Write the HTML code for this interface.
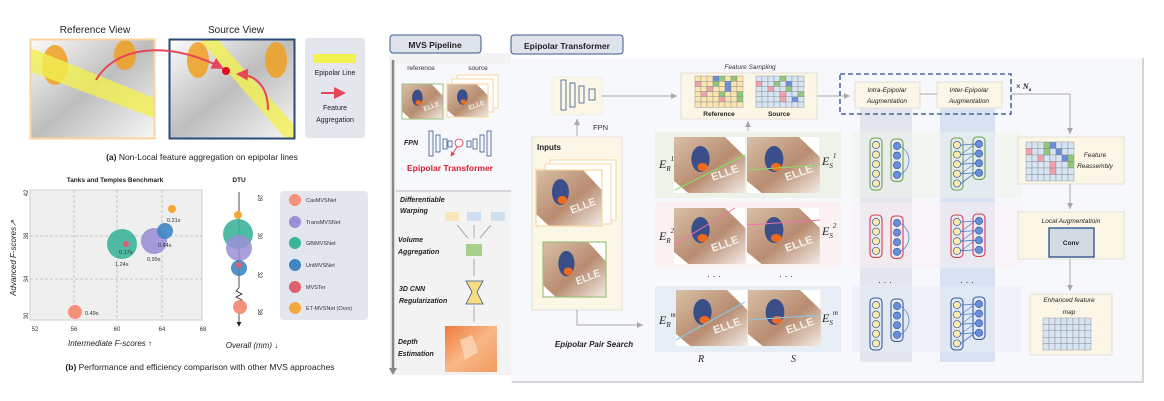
<!DOCTYPE html>
<html><head><meta charset="utf-8"><style>
html,body{margin:0;padding:0;background:#fff;}
svg{display:block;font-family:"Liberation Sans",sans-serif;}
.it{font-style:italic;}
</style></head><body>
<svg id="s" width="1164" height="401" viewBox="0 0 1164 401" xmlns="http://www.w3.org/2000/svg">
<defs>
<marker id="ag" markerWidth="8" markerHeight="8" refX="6" refY="3" orient="auto"><path d="M0,0 L6,3 L0,6 z" fill="#a8a8a8"/></marker>
<marker id="ar" markerWidth="8" markerHeight="8" refX="5" refY="3" orient="auto"><path d="M0,0 L6,3 L0,6 z" fill="#e8445a"/></marker>
<marker id="ak" markerWidth="8" markerHeight="8" refX="5" refY="3" orient="auto"><path d="M0,0 L6,3 L0,6 z" fill="#222"/></marker>
<linearGradient id="img" x1="0" y1="0" x2="1" y2="1"><stop offset="0" stop-color="#d8c0a6"/><stop offset="0.55" stop-color="#b88c70"/><stop offset="1" stop-color="#f3ece6"/></linearGradient>
<linearGradient id="dep" x1="0" y1="0" x2="1" y2="1"><stop offset="0" stop-color="#f07a3c"/><stop offset="0.5" stop-color="#f8b888"/><stop offset="1" stop-color="#f39a5c"/></linearGradient>
<linearGradient id="gray" x1="0" y1="0" x2="1" y2="1"><stop offset="0" stop-color="#f8f8f8"/><stop offset="0.5" stop-color="#888"/><stop offset="1" stop-color="#f0f0f0"/></linearGradient>
<g id="bird"><rect width="70" height="56" fill="url(#img)"/><polygon points="50,0 70,0 70,20" fill="#fff"/><polygon points="0,44 0,56 14,56" fill="#fff"/><ellipse cx="26" cy="22" rx="9" ry="13" fill="#3a4f8a"/><ellipse cx="28" cy="30" rx="5" ry="4" fill="#f06a1e"/><text x="38" y="44" font-size="11" font-weight="bold" fill="#f2efe9" transform="rotate(-20 38 44)">ELLE</text></g>
</defs>

<!-- ===== Panel (a) ===== -->
<text x="95" y="33" font-size="10" text-anchor="middle" fill="#222">Reference View</text>
<text x="236" y="33" font-size="10" text-anchor="middle" fill="#222">Source View</text>
<rect x="31" y="40" width="123" height="98" fill="url(#gray)" opacity="0.55"/>
<ellipse cx="55" cy="65" rx="13" ry="20" fill="#f0a020" opacity="0.85"/><ellipse cx="125" cy="55" rx="11" ry="15" fill="#f0a020" opacity="0.85"/>
<polygon points="31,48 31,72 154,118 154,98" fill="#f2f050" opacity="0.8"/>
<rect x="30.5" y="39.5" width="124" height="99" fill="none" stroke="#f8d5a0" stroke-width="2"/>
<rect x="170" y="40" width="124" height="98" fill="url(#gray)" opacity="0.55"/>
<ellipse cx="198" cy="60" rx="11" ry="18" fill="#f0a020" opacity="0.85"/><ellipse cx="276" cy="60" rx="11" ry="18" fill="#f0a020" opacity="0.85"/>
<polygon points="200,40 218,40 294,125 294,138 285,138" fill="#f2f050" opacity="0.8"/>
<rect x="169.5" y="39.5" width="125" height="99" fill="none" stroke="#2a4a78" stroke-width="2"/>
<path d="M96,80 C120,40 180,45 222,68" fill="none" stroke="#e8445a" stroke-width="2" marker-end="url(#ar)"/>
<path d="M268,110 C268,85 255,75 238,74" fill="none" stroke="#e8445a" stroke-width="2" marker-end="url(#ar)"/>
<circle cx="226" cy="71" r="4" fill="#e01020"/>
<rect x="305" y="38" width="60" height="100" rx="4" fill="#e4e6ee"/>
<rect x="313" y="54" width="43" height="9" fill="#f4f050"/>
<text x="335" y="75" font-size="7" text-anchor="middle" fill="#222">Epipolar Line</text>
<line x1="321" y1="93" x2="344" y2="93" stroke="#e8445a" stroke-width="2" marker-end="url(#ar)"/>
<text x="335" y="110" font-size="7" text-anchor="middle" fill="#222">Feature</text>
<text x="335" y="122" font-size="7" text-anchor="middle" fill="#222">Aggregation</text>
<text x="202" y="160" font-size="8.5" text-anchor="middle" fill="#222"><tspan font-weight="bold">(a)</tspan> Non-Local feature aggregation on epipolar lines</text>

<!-- ===== Panel (b) ===== -->
<text x="115" y="182" font-size="6.5" font-weight="bold" text-anchor="middle" fill="#222">Tanks and Temples Benchmark</text>
<rect x="30" y="190" width="172" height="130" fill="#efefef" stroke="#ccc"/>
<g stroke="#bbb" stroke-dasharray="3,2" stroke-width="0.8">
<line x1="74" y1="190" x2="74" y2="320"/><line x1="117" y1="190" x2="117" y2="320"/><line x1="162" y1="190" x2="162" y2="320"/>
<line x1="30" y1="236" x2="202" y2="236"/><line x1="30" y1="279" x2="202" y2="279"/></g>
<g font-size="6" fill="#333" text-anchor="middle">
<text x="35" y="331">52</text><text x="74" y="331">56</text><text x="117" y="331">60</text><text x="162" y="331">64</text><text x="203" y="331">68</text>
<text transform="translate(28,193) rotate(-90)">42</text><text transform="translate(28,236) rotate(-90)">38</text><text transform="translate(28,279) rotate(-90)">34</text><text transform="translate(28,316) rotate(-90)">30</text></g>
<circle cx="75" cy="312" r="7" fill="#f4917a"/>
<circle cx="122" cy="244" r="15" fill="#3cb49a" opacity="0.9"/>
<circle cx="154" cy="241" r="13" fill="#9b8fd6" opacity="0.9"/>
<circle cx="165" cy="231" r="8" fill="#3e86c4" opacity="0.9"/>
<circle cx="126" cy="244" r="3" fill="#e06070"/>
<circle cx="172" cy="209" r="4" fill="#f5a83a"/>
<g font-size="5.5" fill="#333"><text x="85" y="315">0.49s</text><text x="119" y="254">0.17s</text><text x="115" y="266">1.24s</text><text x="147" y="261">0.99s</text><text x="158" y="247">0.64s</text><text x="167" y="222">0.21s</text></g>
<text transform="translate(16,258) rotate(-90)" font-size="8" class="it" text-anchor="middle" fill="#222">Advanced F-scores↗</text>
<text x="110" y="346" font-size="8" class="it" text-anchor="middle" fill="#222">Intermediate F-scores ↑</text>
<text x="239" y="182" font-size="6.5" font-weight="bold" text-anchor="middle" fill="#222">DTU</text>
<line x1="239" y1="192" x2="239" y2="288" stroke="#222" stroke-width="0.8"/>
<polyline points="239,288 236,291 242,294 236,297 242,300 239,302" fill="none" stroke="#222" stroke-width="0.8"/>
<line x1="239" y1="302" x2="239" y2="326" stroke="#222" stroke-width="0.8" marker-end="url(#ak)"/>
<circle cx="238" cy="215" r="4" fill="#f5a83a"/>
<circle cx="238" cy="234" r="15" fill="#3cb49a" opacity="0.9"/>
<circle cx="239" cy="248" r="13" fill="#9b8fd6" opacity="0.85"/>
<circle cx="239" cy="268" r="8" fill="#3e86c4" opacity="0.9"/>
<circle cx="239" cy="265" r="3" fill="#e06070"/>
<circle cx="240" cy="307" r="7" fill="#f4917a"/>
<g font-size="6" fill="#333" text-anchor="middle"><text transform="translate(258,198) rotate(90)">28</text><text transform="translate(258,236) rotate(90)">30</text><text transform="translate(258,275) rotate(90)">32</text><text transform="translate(258,312) rotate(90)">38</text></g>
<text x="252" y="348" font-size="8" class="it" text-anchor="middle" fill="#222">Overall (mm) ↓</text>
<rect x="280" y="191" width="88" height="129" rx="4" fill="#e4e6ee"/>
<g font-size="5.5" fill="#333">
<circle cx="295" cy="200" r="6" fill="#f4917a"/><text x="306" y="202">CasMVSNet</text>
<circle cx="295" cy="222" r="6" fill="#9b8fd6"/><text x="306" y="224">TransMVSNet</text>
<circle cx="295" cy="243" r="6" fill="#3cb49a"/><text x="306" y="245">GBiMVSNet</text>
<circle cx="295" cy="265" r="6" fill="#3e86c4"/><text x="306" y="267">UniMVSNet</text>
<circle cx="295" cy="287" r="6" fill="#e06070"/><text x="306" y="289">MVSTer</text>
<circle cx="295" cy="308" r="6" fill="#f5a83a"/><text x="306" y="310">ET-MVSNet (Ours)</text></g>
<text x="200" y="370" font-size="8.5" text-anchor="middle" fill="#222"><tspan font-weight="bold">(b)</tspan> Performance and efficiency comparison with other MVS approaches</text>

<!-- ===== MVS Pipeline ===== -->
<rect x="389" y="53" width="122" height="322" fill="#f3f3f3"/>
<rect x="390" y="35" width="91" height="18" rx="3" fill="#dfe3ec" stroke="#3a5a8c" stroke-width="1"/>
<text x="435" y="48" font-size="8.5" font-weight="bold" text-anchor="middle" fill="#222">MVS Pipeline</text>
<line x1="393" y1="60" x2="393" y2="368" stroke="#888" stroke-width="2.5"/>
<path d="M389,368 L393,375 L397,368z" fill="#888"/>
<rect x="396" y="64" width="115" height="126" fill="#f7f8fc"/>
<text x="421" y="70" font-size="6.5" text-anchor="middle" fill="#333">reference</text>
<text x="478" y="70" font-size="6.5" text-anchor="middle" fill="#333">source</text>
<use href="#bird" transform="translate(402,84) scale(0.59,0.62)"/><rect x="402" y="84" width="41" height="35" fill="none" stroke="#9cc080" stroke-width="1"/>
<rect x="457" y="75" width="41" height="33" fill="#fff" stroke="#f8d5a0"/><rect x="452" y="79" width="41" height="33" fill="#fff" stroke="#f8d5a0"/>
<use href="#bird" transform="translate(447,84) scale(0.59,0.59)"/><rect x="447" y="84" width="41" height="33" fill="none" stroke="#f8d5a0"/>
<text x="404" y="145" font-size="7" font-weight="bold" class="it" fill="#222">FPN</text>
<g fill="none" stroke="#3a5a8c" stroke-width="0.8"><rect x="429" y="131" width="4" height="25"/><rect x="436" y="135" width="4" height="17"/><rect x="443" y="139" width="4" height="10"/><rect x="448" y="141" width="4" height="6"/><rect x="467" y="141" width="4" height="6"/><rect x="473" y="139" width="4" height="10"/><rect x="480" y="135" width="4" height="17"/><rect x="487" y="131" width="4" height="25"/></g>
<circle cx="459" cy="143" r="4" fill="#fff" stroke="#e03040" stroke-width="0.8"/>
<line x1="457" y1="147" x2="451" y2="156" stroke="#e03040" stroke-width="0.8" marker-end="url(#ar)"/>
<text x="450" y="171" font-size="8.5" font-weight="bold" text-anchor="middle" fill="#d0202e">Epipolar Transformer</text>
<line x1="396" y1="191" x2="511" y2="191" stroke="#bbb"/>
<g font-size="7" font-weight="bold" class="it" fill="#222">
<text x="400" y="202">Differentiable</text><text x="400" y="213">Warping</text>
<text x="398" y="242">Volume</text><text x="398" y="254">Aggregation</text>
<text x="399" y="291">3D CNN</text><text x="399" y="303">Regularization</text>
<text x="398" y="344">Depth</text><text x="398" y="356">Estimation</text></g>
<rect x="445" y="212" width="14" height="9" fill="#f8e6b8"/><rect x="467" y="212" width="14" height="9" fill="#cfe0f0"/><rect x="491" y="212" width="14" height="9" fill="#cfe0f0"/>
<g stroke="#aaa" stroke-width="1"><line x1="457" y1="225" x2="468" y2="238"/><line x1="474" y1="225" x2="474" y2="238"/><line x1="491" y1="225" x2="480" y2="238"/><line x1="474" y1="259" x2="474" y2="276"/><line x1="474" y1="306" x2="474" y2="322"/></g>
<rect x="466" y="244" width="16" height="12" fill="#a8d08c"/>
<polygon points="466,281 483,281 477,292 483,304 466,304 472,292" fill="#f8dc80" stroke="#3a5a8c" stroke-width="0.8"/>
<rect x="445" y="326" width="52" height="46" fill="url(#dep)"/>
<polygon points="460,340 472,335 478,352 465,360" fill="#fbd6b8" opacity="0.8"/>

<!-- ===== Epipolar Transformer panel ===== -->
<rect x="511" y="35" width="112" height="19" rx="3" fill="#dfe3ec" stroke="#3a5a8c" stroke-width="1"/>
<text x="567" y="49" font-size="8.5" font-weight="bold" text-anchor="middle" fill="#222">Epipolar Transformer</text>
<rect x="511" y="58" width="632" height="324" fill="#f7f8fc"/>
<polyline points="1143,58 1143,382 512,382" fill="none" stroke="#c8c8c8" stroke-width="1.5"/>

<rect x="552" y="77" width="50" height="38" fill="#fcf6e6" stroke="#eee"/>
<g fill="none" stroke="#3a5a8c" stroke-width="0.8"><rect x="561" y="80" width="5" height="30"/><rect x="570" y="83" width="5" height="24"/><rect x="579" y="86" width="5" height="17"/><rect x="589" y="89" width="6" height="11"/></g>
<line x1="577" y1="136" x2="577" y2="119" stroke="#aaa" marker-end="url(#ag)"/>
<text x="593" y="130" font-size="7.5" fill="#333">FPN</text>
<rect x="532" y="137" width="90" height="173" fill="#fcf6e6" stroke="#e4e0d8"/>
<text x="537" y="150" font-size="8" font-weight="bold" fill="#222">Inputs</text>
<rect x="550" y="160" width="66" height="60" fill="#fff" stroke="#f8d5a0"/><rect x="545" y="164" width="66" height="60" fill="#fff" stroke="#f8d5a0"/>
<use href="#bird" transform="translate(536,170) scale(0.94,1.0)"/><rect x="536" y="170" width="66" height="56" fill="none" stroke="#f8d5a0" stroke-width="1.2"/>
<use href="#bird" transform="translate(543,242) scale(0.9,0.98)"/><rect x="543" y="242" width="63" height="55" fill="none" stroke="#9cc080" stroke-width="1.2"/>
<polyline points="577,310 577,325 643,325" fill="none" stroke="#aaa" marker-end="url(#ag)"/>
<text x="594" y="347" font-size="8" font-weight="bold" class="it" text-anchor="middle" fill="#222">Epipolar Pair Search</text>
<line x1="602" y1="96" x2="677" y2="96" stroke="#aaa" marker-end="url(#ag)"/>

<!-- Feature sampling -->
<text x="750" y="69" font-size="6.5" class="it" text-anchor="middle" fill="#333">Feature Sampling</text>
<rect x="681" y="73" width="136" height="46" fill="#fcf6e6" stroke="#e4e0d8"/>
<g id="gridR"></g><g id="gridS"></g>
<text x="719" y="116" font-size="6.5" font-weight="bold" text-anchor="middle" fill="#222">Reference</text>
<text x="779" y="116" font-size="6.5" font-weight="bold" text-anchor="middle" fill="#222">Source</text>
<line x1="748" y1="131" x2="748" y2="121" stroke="#aaa" marker-end="url(#ag)"/>
<line x1="817" y1="96" x2="850" y2="96" stroke="#aaa" marker-end="url(#ag)"/>

<!-- rows -->
<rect x="655" y="132" width="186" height="66" fill="#eef3ea"/>
<rect x="655" y="202" width="186" height="66" fill="#fbf0f2"/>
<rect x="655" y="286" width="186" height="66" fill="#e8eef6"/>
<use href="#bird" transform="translate(674,137) scale(1.02,1.0)"/><use href="#bird" transform="translate(747,137) scale(1.04,1.0)"/>
<use href="#bird" transform="translate(674,208) scale(1.02,1.0)"/><use href="#bird" transform="translate(747,208) scale(1.04,1.0)"/>
<use href="#bird" transform="translate(676,290) scale(1.02,1.0)"/><use href="#bird" transform="translate(748,290) scale(1.04,1.0)"/>
<line x1="675" y1="190" x2="745" y2="155" stroke="#88dd66"/><line x1="747" y1="170" x2="820" y2="165" stroke="#88dd66"/>
<line x1="674" y1="245" x2="735" y2="208" stroke="#f070b0"/><line x1="747" y1="225" x2="820" y2="220" stroke="#f070b0"/>
<line x1="676" y1="340" x2="745" y2="302" stroke="#88c8ee"/><line x1="748" y1="320" x2="820" y2="315" stroke="#88c8ee"/>
<g font-family="Liberation Serif,serif" class="it" fill="#222" font-size="12">
<text x="659" y="168">E<tspan font-size="7" dy="3">R</tspan><tspan font-size="7" dy="-10">1</tspan></text>
<text x="822" y="165">E<tspan font-size="7" dy="3">S</tspan><tspan font-size="7" dy="-10">1</tspan></text>
<text x="659" y="240">E<tspan font-size="7" dy="3">R</tspan><tspan font-size="7" dy="-10">2</tspan></text>
<text x="822" y="235">E<tspan font-size="7" dy="3">S</tspan><tspan font-size="7" dy="-10">2</tspan></text>
<text x="659" y="324">E<tspan font-size="7" dy="3">R</tspan><tspan font-size="7" dy="-10">m</tspan></text>
<text x="822" y="322">E<tspan font-size="7" dy="3">S</tspan><tspan font-size="7" dy="-10">m</tspan></text>
<text x="698" y="362" font-size="10">R</text><text x="791" y="362" font-size="10">S</text></g>
<text x="707" y="279" font-size="9" fill="#333">· · ·</text><text x="779" y="279" font-size="9" fill="#333">· · ·</text>

<!-- aug columns -->
<rect x="860" y="108" width="52" height="254" fill="#e3e6ee"/>
<rect x="940" y="108" width="55" height="254" fill="#d9e2f2"/>
<rect x="852" y="132" width="170" height="66" fill="#eef3ea" opacity="0.5"/>
<rect x="852" y="202" width="170" height="66" fill="#fbf0f2" opacity="0.5"/>
<rect x="852" y="286" width="170" height="66" fill="#e8eef6" opacity="0.5"/>
<rect x="840" y="74" width="171" height="40" fill="none" stroke="#2a4a8c" stroke-width="1.3" stroke-dasharray="5,3"/>
<rect x="855" y="82" width="65" height="26" fill="#fcf6e6" stroke="#e4e0d8"/>
<rect x="937" y="82" width="65" height="26" fill="#fcf6e6" stroke="#e4e0d8"/>
<g font-size="6.5" class="it" text-anchor="middle" fill="#222"><text x="887" y="92">Intra-Epipolar</text><text x="887" y="103">Augmentation</text><text x="969" y="92">Inter-Epipolar</text><text x="969" y="103">Augmentation</text></g>
<line x1="920" y1="94" x2="937" y2="94" stroke="#aaa"/>
<text x="1016" y="89" font-size="8" fill="#222">× <tspan font-family="Liberation Serif,serif" font-weight="bold" class="it">N<tspan font-size="5" dy="2">a</tspan></tspan></text>
<polyline points="1011,94 1070,94 1070,134" fill="none" stroke="#aaa" marker-end="url(#ag)"/>
<g id="nodes"></g>
<text x="878" y="285" font-size="9" fill="#333">· · ·</text><text x="960" y="285" font-size="9" fill="#333">· · ·</text>

<!-- right -->
<rect x="1018" y="137" width="106" height="47" fill="#fcf6e6" stroke="#e4e0d8"/>
<g id="gridF"></g>
<g font-size="6.5" class="it" text-anchor="middle" fill="#222"><text x="1095" y="157">Feature</text><text x="1095" y="168">Reassembly</text></g>
<line x1="1070" y1="184" x2="1070" y2="209" stroke="#aaa" marker-end="url(#ag)"/>
<rect x="1018" y="212" width="106" height="47" fill="#fcf6e6" stroke="#e4e0d8"/>
<text x="1071" y="223" font-size="6.5" class="it" text-anchor="middle" fill="#222">Local Augmentatioin</text>
<rect x="1049" y="228" width="45" height="29" fill="#d4dae4" stroke="#2a4a8c" stroke-width="1.3"/>
<text x="1071" y="245" font-size="6.5" font-weight="bold" text-anchor="middle" fill="#222">Conv</text>
<line x1="1070" y1="259" x2="1070" y2="291" stroke="#aaa" marker-end="url(#ag)"/>
<rect x="1030" y="294" width="82" height="61" fill="#fcf6e6" stroke="#e4e0d8"/>
<g font-size="6.5" class="it" text-anchor="middle" fill="#222"><text x="1069" y="302">Enhanced feature</text><text x="1069" y="314">map</text></g>
<g id="gridE"></g>
</svg>
<script>
var NS="http://www.w3.org/2000/svg";
function el(p,t,a){var e=document.createElementNS(NS,t);for(var k in a)e.setAttribute(k,a[k]);document.getElementById(p).appendChild(e);return e;}
function grid(id,x,y,c,r,w,h,base,hl){for(var i=0;i<r;i++)for(var j=0;j<c;j++){var f=base;var k=(i*c+j);if(hl&&hl[k])f=hl[k];el(id,'rect',{x:x+j*w,y:y+i*h,width:w,height:h,fill:f,stroke:'#888','stroke-width':0.4});}}
var P='#f4a0a8',G='#90c878',B='#6a8ed8';
grid('gridR',695,76,8,6,6,5.2,'#fbe6b0',{3:B,4:G,6:G,8:P,11:G,13:B,18:P,21:B,25:P,28:G,31:G,36:P,39:G});
grid('gridS',756,76,8,6,6,5.2,'#d6e4f4',{4:G,11:G,13:B,8:P,18:P,21:G,28:P,31:G,36:P,38:B});
grid('gridF',1026,142,8,6,6,6.5,'#d6e4f4',{3:G,4:B,8:P,11:G,13:B,18:P,22:B,23:G,28:P,31:G,36:P});
grid('gridE',1043,318,8,5,6,6.4,'#d6e4f4',{});
function col(x,y0,n,col,fill,dy){el('nodes','rect',{x:x-6,y:y0-7,width:12,height:n*dy+4,rx:4,fill:'none',stroke:col,'stroke-width':1.1});for(var i=0;i<n;i++)el('nodes','circle',{cx:x,cy:y0+i*dy,r:3.6,fill:fill,stroke:'#3a5a9c','stroke-width':0.7});}
function row(y,n1,n2,c,dy){col(876,y,n1,c,'#fbeaa8',dy);col(897,y+1,n2,c,'#6a8ed8',dy);col(957,y,n1,c,'#fbeaa8',dy);col(979,y-1,n2,c,'#6a8ed8',dy);
 for(var i=0;i<n1;i++){var j=Math.min(i,n2-1);el('nodes','line',{x1:961,y1:y+i*dy,x2:975,y2:y-1+j*dy,stroke:'#4a7ac8','stroke-width':0.8});if(i>0)el('nodes','line',{x1:961,y1:y+i*dy,x2:975,y2:y-1+(i-1)*dy,stroke:'#4a7ac8','stroke-width':0.6});}
 el('nodes','path',{d:'M900,'+(y+1)+' C912,'+(y+8)+' 912,'+(y+(n2-1)*dy-6)+' 900,'+(y+1+(n2-1)*dy),fill:'none',stroke:'#4a7ac8','stroke-width':0.7});}
row(145,5,4,'#70a050',9.6);
row(222,4,4,'#d04050',9.6);
row(305,5,4,'#3a5a9c',9.6);
</script>
</body></html>
